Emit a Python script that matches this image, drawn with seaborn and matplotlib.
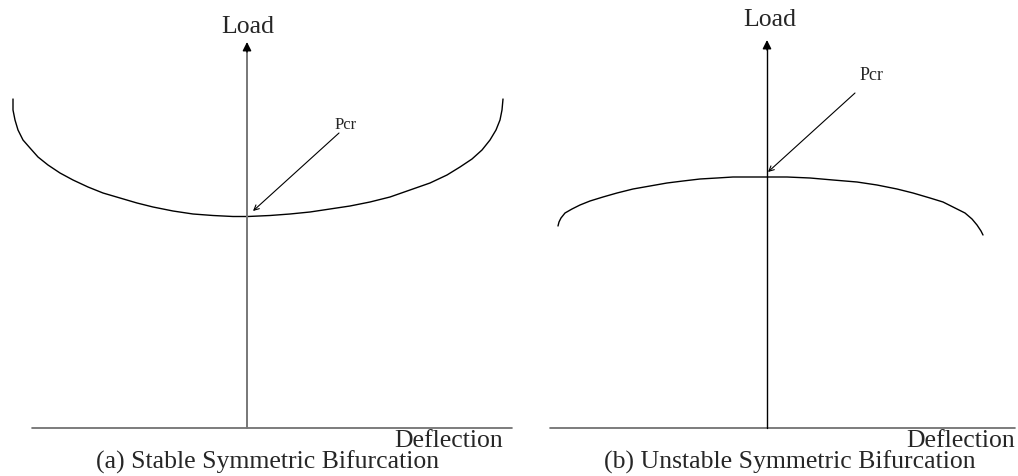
import matplotlib
matplotlib.use('Agg')
import matplotlib.pyplot as plt
import pandas as pd
import seaborn as sns

# curve points: (deflection, load), origin at axis crossing
stable_defl = [-234, -234, -232, -229, -224, -217, -209, -199, -187, -174,
               -159, -144, -127, -110, -94, -74, -54, -34, -14, 1,
               23, 43, 63, 83, 103, 123, 143, 163, 183, 200,
               213, 225, 235, 243, 249, 253, 255, 256]
stable_load = [329, 318, 308, 298, 288, 280, 271, 263, 255, 248,
               241, 235, 230, 225, 221, 217, 214, 212.5, 211.5, 211.5,
               212.5, 214, 216, 219, 222, 226, 231, 238, 245, 253,
               261, 269, 278, 288, 298, 308, 318, 329]

unstable_defl = [-209, -208, -206, -202, -195, -187, -177, -164, -150, -134,
                 -117, -100, -84, -67, -50, -34, -17, 0,
                 20, 43, 66, 90, 110, 130, 146, 163, 176, 188,
                 198, 205, 210, 214, 216]
unstable_load = [202, 206, 210, 215, 219, 223, 227, 231, 235, 239,
                 242, 245, 247, 249, 250, 251, 251, 251,
                 251, 250, 248, 246, 243, 239, 235, 230, 226, 220,
                 215, 209, 203, 197, 193]

captions = ["(a) Stable Symmetric Bifurcation", "(b) Unstable Symmetric Bifurcation"]
pcr_label = "Pcr"

sns.set_theme(style="white")
plt.rcParams['font.family'] = ['Liberation Serif', 'DejaVu Serif']

fig = plt.figure(figsize=(10.18, 4.76), dpi=100)

panels = [
    {"pos": [0.0, 0.0, 515 / 1018, 1.0], "xlim": (-247, 268),
     "defl": stable_defl, "load": stable_load,
     "haxis": (-215, 265), "vtop": 386, "vcolor": "#777777", "vlw": 1.4,
     "load_xy": (1, 395),
     "pcr_text": (99, 303), "pcr_size": 12, "pcr_tail": (92, 295), "pcr_head": (6, 217),
     "defl_x": 256, "cap_x": 21},
    {"pos": [520 / 1018, 0.0, 498 / 1018, 1.0], "xlim": (-247, 251),
     "defl": unstable_defl, "load": unstable_load,
     "haxis": (-217, 248), "vtop": 388, "vcolor": "black", "vlw": 1.0,
     "load_xy": (3, 402),
     "pcr_text": (105, 352), "pcr_size": 13, "pcr_tail": (88, 335), "pcr_head": (1, 256),
     "defl_x": 248, "cap_x": 23},
]

for p, caption in zip(panels, captions):
    ax = fig.add_axes(p["pos"])
    ax.set_xlim(*p["xlim"])
    ax.set_ylim(-48, 428)
    ax.axis("off")

    df = pd.DataFrame({"Deflection": p["defl"], "Load": p["load"]})
    sns.lineplot(data=df, x="Deflection", y="Load", sort=False,
                 estimator=None, color="black", linewidth=1.0, ax=ax)

    # axes
    ax.plot(list(p["haxis"]), [0, 0], color="#666666", linewidth=1.2)
    ax.plot([0, 0], [0, p["vtop"] - 8], color=p["vcolor"], linewidth=p["vlw"])
    ax.annotate("", xy=(0, p["vtop"]), xytext=(0, p["vtop"] - 10),
                arrowprops=dict(arrowstyle="-|>", color="black", lw=1.0,
                                shrinkA=0, shrinkB=0, mutation_scale=13))
    ax.text(*p["load_xy"], "Load", ha="center", va="baseline", fontsize=18.5)
    ax.text(p["defl_x"], -19, "Deflection", ha="right", va="baseline", fontsize=18.5)
    ax.text(p["cap_x"], -41, caption, ha="center", va="baseline", fontsize=18.5)

    # Pcr pointer
    ax.annotate("", xy=p["pcr_head"], xytext=p["pcr_tail"],
                arrowprops=dict(arrowstyle="->", color="black", lw=0.8,
                                shrinkA=0, shrinkB=0, mutation_scale=9))
    ax.text(*p["pcr_text"], pcr_label, ha="center", va="center", fontsize=p["pcr_size"])

fig.savefig("out.png", dpi=100)
plt.close('all')
